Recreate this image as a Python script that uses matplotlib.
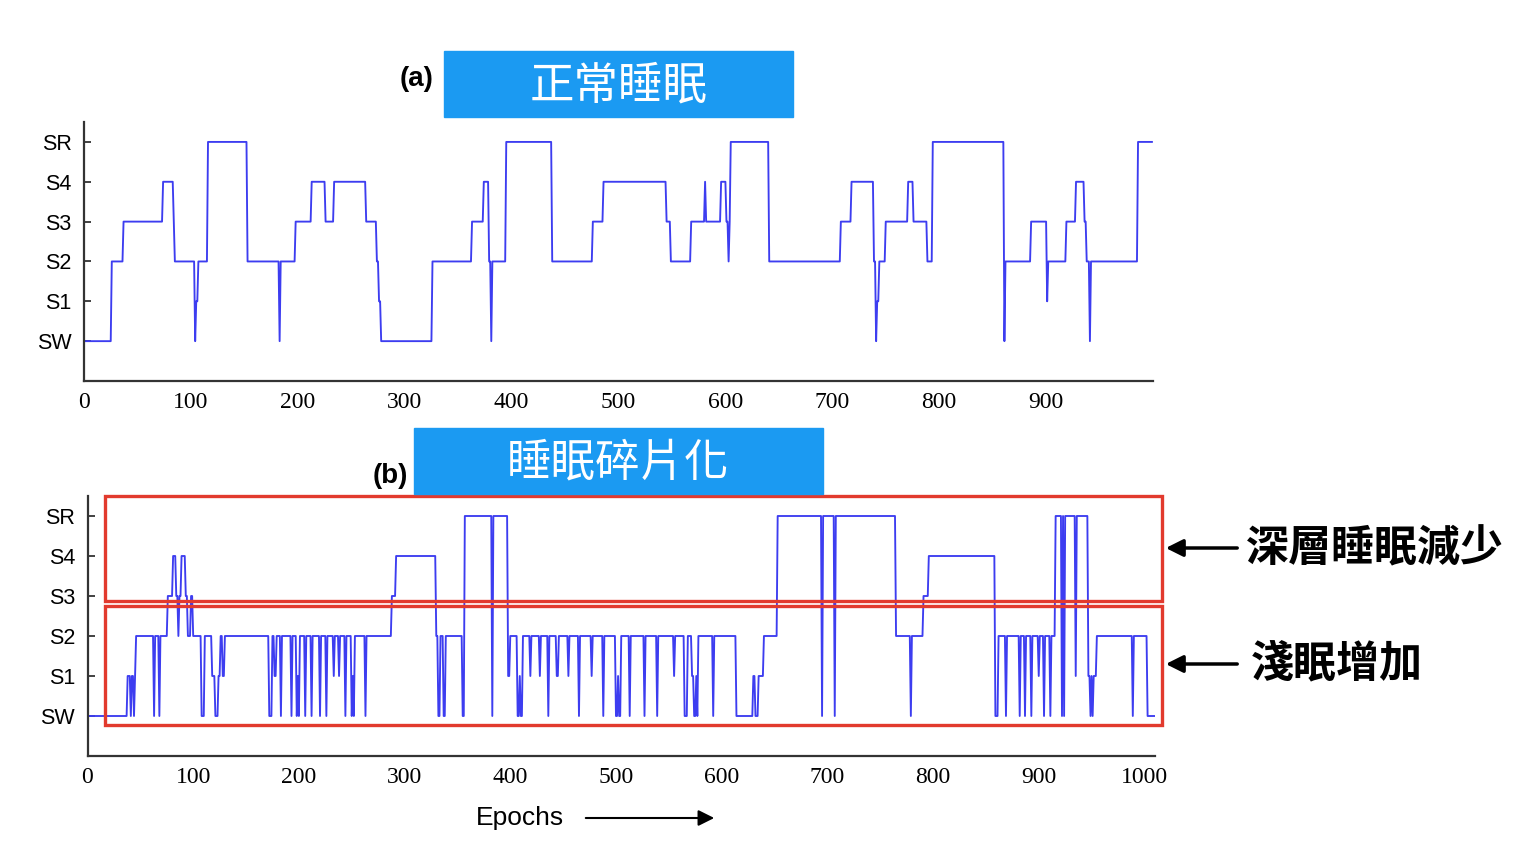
import numpy as np
import matplotlib
matplotlib.use('Agg')
import matplotlib.pyplot as plt
from matplotlib.patches import Rectangle, FancyArrowPatch

# sleep stages, SW = 0 ... SR = 5
stage_labels = ['SW', 'S1', 'S2', 'S3', 'S4', 'SR']

# (start epoch, stage) runs
top_runs = [(0, 0), (26, 2), (37, 3), (74, 4), (84, 3), (85, 2), (104, 0), (105, 1),
            (107, 2), (116, 5), (153, 2), (183, 0), (184, 2), (198, 3), (213, 4),
            (226, 3), (234, 4), (264, 3), (274, 2), (276, 1), (278, 0), (326, 2),
            (363, 3), (374, 4), (379, 2), (381, 0), (382, 2), (395, 5), (438, 2),
            (476, 3), (486, 4), (545, 3), (549, 2), (568, 3), (581, 4), (582, 3),
            (596, 4), (601, 3), (603, 2), (604, 3), (605, 5), (641, 2), (708, 3),
            (718, 4), (739, 2), (741, 0), (742, 1), (744, 2), (750, 3), (771, 4),
            (776, 3), (789, 2), (794, 5), (861, 0), (862, 2), (886, 3), (901, 1),
            (902, 2), (919, 3), (928, 4), (936, 3), (938, 2), (941, 0), (942, 2),
            (986, 5)]
top_last = 999

bottom_runs = [(0, 0), (38, 1), (41, 0), (42, 1), (44, 0), (45, 1), (46, 2), (63, 0),
               (64, 2), (68, 0), (69, 2), (76, 3), (81, 4), (84, 3), (86, 2), (87, 3),
               (89, 4), (93, 3), (95, 2), (98, 3), (100, 2), (108, 0), (111, 2),
               (118, 1), (121, 0), (124, 1), (126, 2), (128, 1), (130, 2), (172, 0),
               (175, 2), (177, 1), (179, 2), (183, 0), (184, 2), (193, 0), (194, 2),
               (198, 0), (199, 1), (200, 0), (201, 2), (206, 0), (207, 2), (212, 0),
               (213, 2), (220, 0), (221, 2), (226, 0), (227, 2), (233, 1), (234, 2),
               (238, 1), (239, 2), (244, 0), (245, 2), (250, 0), (251, 1), (252, 0),
               (253, 2), (263, 0), (264, 2), (288, 3), (292, 4), (330, 2), (332, 0),
               (334, 2), (337, 0), (339, 2), (355, 0), (357, 5), (383, 0), (384, 5),
               (398, 1), (400, 2), (407, 0), (409, 1), (410, 0), (412, 2), (419, 1),
               (420, 2), (428, 1), (429, 2), (436, 0), (437, 2), (444, 1), (446, 2),
               (455, 1), (456, 2), (465, 0), (466, 2), (477, 1), (478, 2), (488, 0),
               (489, 2), (500, 0), (502, 1), (503, 0), (505, 2), (513, 0), (514, 2),
               (527, 0), (528, 2), (539, 0), (540, 2), (555, 1), (556, 2), (565, 0),
               (568, 2), (572, 1), (574, 0), (576, 1), (577, 0), (578, 2), (592, 0),
               (593, 2), (614, 0), (630, 1), (632, 0), (635, 1), (640, 2), (653, 5),
               (695, 0), (696, 5), (707, 0), (708, 5), (765, 2), (779, 0), (780, 2),
               (791, 3), (796, 4), (859, 0), (862, 2), (869, 0), (870, 2), (882, 0),
               (883, 2), (887, 0), (888, 2), (893, 0), (894, 2), (900, 1), (901, 2),
               (905, 0), (906, 2), (911, 0), (912, 2), (916, 5), (922, 0), (923, 5),
               (924, 0), (925, 5), (935, 1), (936, 5), (947, 1), (949, 0), (950, 1),
               (951, 0), (952, 1), (955, 2), (989, 0), (990, 2), (1003, 0)]
bottom_last = 1010

top_xticks = [0, 100, 200, 300, 400, 500, 600, 700, 800, 900]
bottom_xticks = [0, 100, 200, 300, 400, 500, 600, 700, 800, 900, 1000]

top_title = '正常睡眠'
bottom_title = '睡眠碎片化'
note_deep = '深層睡眠減少'
note_light = '淺眠增加'

W, H = 1524, 848
LINE = '#3d3df0'
BOX = '#1b9af2'
RED = '#e23a2e'
CJK = ['Noto Sans CJK TC', 'DejaVu Sans']


def expand(runs, last):
    starts = np.array([r[0] for r in runs])
    stages = np.array([r[1] for r in runs])
    lengths = np.diff(np.append(starts, last + 1))
    return np.repeat(stages, lengths)


def fx(px):
    return px / W


def fy(py):
    return 1 - py / H


def style_axis(ax, xlim, xticks):
    ax.set_xlim(*xlim)
    ax.set_ylim(-1, 5.5)
    ax.set_yticks(range(6))
    ax.set_yticklabels(stage_labels, family='Liberation Sans', fontsize=15.5)
    ax.set_xticks(xticks)
    ax.set_xticklabels([str(t) for t in xticks], family='Liberation Serif', fontsize=17)
    for s in ['top', 'right']:
        ax.spines[s].set_visible(False)
    for s in ['left', 'bottom']:
        ax.spines[s].set_color('#333333')
        ax.spines[s].set_linewidth(1.6)
    ax.tick_params(direction='in', length=5, width=1.3, color='#333333', pad=9)
    ax.tick_params(axis='x', length=0, pad=8)


fig = plt.figure(figsize=(W / 100, H / 100), dpi=100)

# (a) normal sleep
ax1 = fig.add_axes([fx(84), fy(381), fx(1153) - fx(84), fy(122) - fy(381)])
top_hyp = expand(top_runs, top_last)
ax1.plot(np.arange(len(top_hyp)), top_hyp, color=LINE, lw=1.35)
style_axis(ax1, (0, 1000), top_xticks)

# (b) fragmented sleep
ax2 = fig.add_axes([fx(87.5), fy(756), fx(1155) - fx(87.5), fy(496) - fy(756)])
bottom_hyp = expand(bottom_runs, bottom_last)
ax2.plot(np.arange(len(bottom_hyp)), bottom_hyp, color=LINE, lw=1.35)
style_axis(ax2, (0, 1010), bottom_xticks)

# red highlight boxes (deep / light sleep bands)
ax2.add_patch(Rectangle((16.5, 2.875), 1000, 2.625, fill=False, edgecolor=RED,
                        lw=2.4, clip_on=False, zorder=5))
ax2.add_patch(Rectangle((16.5, -0.225), 1000, 2.975, fill=False, edgecolor=RED,
                        lw=2.4, clip_on=False, zorder=5))

# panel titles
fig.add_artist(Rectangle((fx(444), fy(117)), fx(793) - fx(444), fy(51) - fy(117),
                         transform=fig.transFigure, color=BOX, zorder=3))
fig.text(fx(619), fy(86), top_title, family=CJK, fontsize=32, fontweight='medium',
         color='white', ha='center', va='center', zorder=4)
fig.text(fx(417), fy(79), '(a)', family='Liberation Sans', fontweight='bold',
         fontsize=20, ha='center', va='center')

fig.add_artist(Rectangle((fx(414), fy(494)), fx(823) - fx(414), fy(428) - fy(494),
                         transform=fig.transFigure, color=BOX, zorder=3))
fig.text(fx(618), fy(463), bottom_title, family=CJK, fontsize=32, fontweight='medium',
         color='white', ha='center', va='center', zorder=4)
fig.text(fx(390), fy(476), '(b)', family='Liberation Sans', fontweight='bold',
         fontsize=20, ha='center', va='center')

# side notes with arrows
for py, label, x0 in [(548, note_deep, 1246), (664, note_light, 1251)]:
    fig.add_artist(FancyArrowPatch((fx(1240), fy(py)), (fx(1163), fy(py)),
                                   transform=fig.transFigure, arrowstyle='-|>',
                                   mutation_scale=26, lw=2.5, color='black'))
    fig.text(fx(x0), fy(py), label, family=CJK, fontweight='bold', fontsize=31,
             ha='left', va='center')

# x label with arrow
fig.text(fx(520), fy(818), 'Epochs', family='Liberation Sans', fontsize=19,
         ha='center', va='center')
fig.add_artist(FancyArrowPatch((fx(583), fy(818)), (fx(717), fy(818)),
                               transform=fig.transFigure, arrowstyle='-|>',
                               mutation_scale=24, lw=1.5, color='black'))

fig.savefig('out.png', dpi=100)
